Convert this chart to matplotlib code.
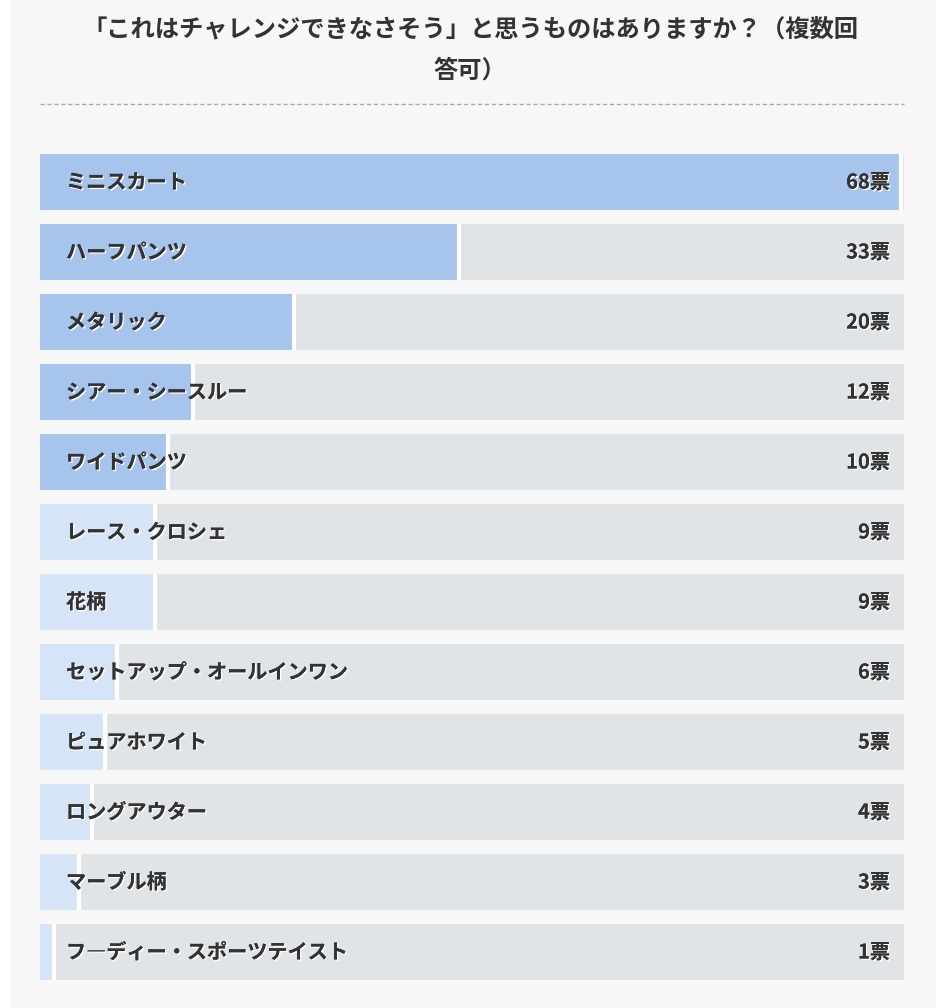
import matplotlib
matplotlib.use("Agg")
import matplotlib.pyplot as plt
import matplotlib.patheffects as pe
from matplotlib.patches import Rectangle

plt.rcParams["font.family"] = "Noto Sans CJK JP"

title = "「これはチャレンジできなさそう」と思うものはありますか？（複数回\n答可）"
categories = ["ミニスカート", "ハーフパンツ", "メタリック", "シアー・シースルー", "ワイドパンツ",
              "レース・クロシェ", "花柄", "セットアップ・オールインワン", "ピュアホワイト",
              "ロングアウター", "マーブル柄", "フ―ディー・スポーツテイスト"]
votes = [68, 33, 20, 12, 10, 9, 9, 6, 5, 4, 3, 1]
unit = "票"

W, H = 946, 1008
fig = plt.figure(figsize=(W / 100, H / 100), dpi=100)
fig.patch.set_facecolor("white")
bg = fig.add_axes([0, 0, 1, 1], zorder=-10)
bg.set_xlim(0, W); bg.set_ylim(H, 0); bg.axis("off")
bg.add_patch(Rectangle((10, 0), 926, H, facecolor="#f7f7f7", edgecolor="none"))
bg.plot([40, 904], [104, 104], color="#aaaaaa", lw=1, ls=(0, (3, 2)))
bg.text(470, 50, title, ha="center", va="center", fontsize=17.5,
        fontweight="bold", color="#333333", linespacing=1.9)

n = len(categories)
ax = fig.add_axes([40 / W, 1 - (154 + 70 * n - 14) / H, 864 / W, (70 * n - 14) / H], zorder=1)
ax.set_facecolor("none")
vmax = max(votes)
xmax = vmax * 864 / 860
ax.set_xlim(0, xmax)
ax.set_ylim(n - 0.2, 0)
ax.axis("off")
shadow = [pe.withSimplePatchShadow(offset=(1, -1), shadow_rgbFace="white", alpha=1.0), pe.Normal()]
for i, (c, v) in enumerate(zip(categories, votes)):
    y = i + 0.4
    ax.barh(y, xmax, height=0.8, color="#e0e4e7", zorder=1)
    col = "#a6c4ec" if i < 5 else "#d6e4f7"
    ax.barh(y, v, height=0.8, color=col, zorder=2)
    ax.plot([v + 0.1, v + 0.1], [i, i + 0.8], color="white", lw=3, zorder=3, solid_capstyle="butt")
    ax.text(vmax * 26 / 860, y, c, va="center", ha="left", fontsize=14.5, fontweight="bold",
            color="#333333", zorder=4, path_effects=shadow)
    ax.text(vmax * 850 / 860, y, f"{v}{unit}", va="center", ha="right", fontsize=14.5,
            fontweight="bold", color="#333333", zorder=4, path_effects=shadow)

fig.savefig("out.png", dpi=100)
